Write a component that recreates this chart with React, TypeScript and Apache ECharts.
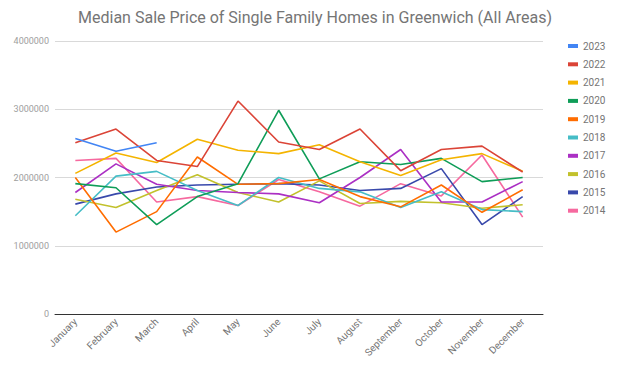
import React, { useEffect, useRef } from "react";
import * as echarts from "echarts";

const months = ["January", "February", "March", "April", "May", "June", "July", "August", "September", "October", "November", "December"];
const years = ["2023", "2022", "2021", "2020", "2019", "2018", "2017", "2016", "2015", "2014"];
const colors = ["#4285f4", "#db4437", "#f4b400", "#0f9d58", "#ff6d01", "#46bdc6", "#ab30c4", "#c2c12c", "#3949ab", "#f6699f"];

const v2023 = [2570000, 2385000, 2510000, null, null, null, null, null, null, null, null, null];
const v2022 = [2510000, 2710000, 2250000, 2160000, 3120000, 2520000, 2410000, 2710000, 2100000, 2410000, 2460000, 2080000];
const v2021 = [2060000, 2360000, 2220000, 2560000, 2400000, 2350000, 2480000, 2230000, 2030000, 2260000, 2350000, 2090000];
const v2020 = [1910000, 1850000, 1310000, 1720000, 1910000, 2985000, 1980000, 2230000, 2190000, 2280000, 1940000, 2000000];
const v2019 = [2000000, 1200000, 1500000, 2300000, 1900000, 1910000, 1970000, 1720000, 1570000, 1890000, 1490000, 1820000];
const v2018 = [1440000, 2020000, 2090000, 1810000, 1590000, 2000000, 1840000, 1790000, 1560000, 1790000, 1530000, 1500000];
const v2017 = [1780000, 2200000, 1900000, 1810000, 1780000, 1760000, 1630000, 2000000, 2410000, 1640000, 1640000, 1940000];
const v2016 = [1680000, 1560000, 1810000, 2040000, 1780000, 1640000, 1950000, 1620000, 1650000, 1630000, 1550000, 1600000];
const v2015 = [1610000, 1760000, 1860000, 1890000, 1900000, 1910000, 1890000, 1810000, 1840000, 2130000, 1310000, 1720000];
const v2014 = [2250000, 2280000, 1640000, 1720000, 1590000, 1970000, 1790000, 1580000, 1910000, 1730000, 2330000, 1420000];

const seriesValues = [v2023, v2022, v2021, v2020, v2019, v2018, v2017, v2016, v2015, v2014];

export default function App() {
  const ref = useRef<HTMLDivElement>(null);
  useEffect(() => {
    if (!ref.current) return;
    const chart = echarts.init(ref.current, undefined, { renderer: "svg" });
    chart.setOption({
      animation: false,
      backgroundColor: "#ffffff",
      color: colors,
      title: {
        text: "Median Sale Price of Single Family Homes in Greenwich (All Areas)",
        left: "center",
        top: 4,
        textStyle: { fontFamily: "Roboto", fontSize: 16, fontWeight: "normal", color: "#757575" },
      },
      legend: {
        orient: "vertical",
        left: 563,
        top: 35,
        icon: "rect",
        itemWidth: 10,
        itemHeight: 4,
        itemGap: 6.3,
        data: years,
        textStyle: { fontFamily: "Roboto", fontSize: 10, color: "#757575", lineHeight: 12 },
      },
      grid: { left: 55, right: 87, top: 41, bottom: 54, containLabel: false },
      xAxis: {
        type: "category",
        data: months,
        boundaryGap: true,
        axisLine: { lineStyle: { color: "#333333", width: 1 } },
        axisTick: { show: false },
        axisLabel: { rotate: 45, interval: 0, color: "#757575", fontFamily: "Roboto", fontSize: 10, margin: 6, padding: [0, 0, 8, 0] },
      },
      yAxis: {
        type: "value",
        min: 0,
        max: 4000000,
        interval: 1000000,
        axisLine: { show: false },
        axisTick: { show: false },
        splitLine: { lineStyle: { color: "#d9d9d9", width: 1 } },
        axisLabel: { color: "#9e9e9e", fontFamily: "Roboto", fontSize: 9, margin: 6, formatter: (v: number) => String(v) },
      },
      series: years.map((y, i) => ({
        name: y,
        type: "line",
        data: seriesValues[i],
        showSymbol: false,
        symbol: "none",
        lineStyle: { width: 1.6 },
        z: 20 - i,
      })),
    });
    return () => chart.dispose();
  }, []);
  return <div ref={ref} style={{ width: 630, height: 368, margin: -8 }} />;
}
